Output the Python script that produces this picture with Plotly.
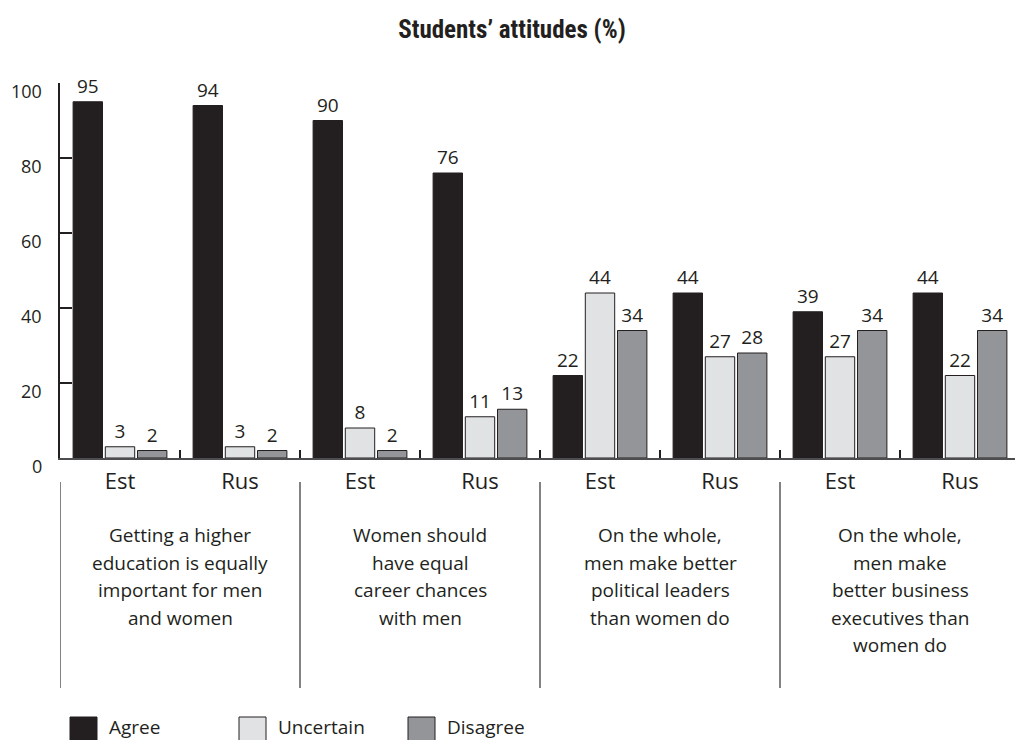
import plotly.graph_objects as go

# ---- data ----
countries = ["Est", "Rus", "Est", "Rus", "Est", "Rus", "Est", "Rus"]
agree = [95, 94, 90, 76, 22, 44, 39, 44]
uncertain = [3, 3, 8, 11, 44, 27, 27, 22]
disagree = [2, 2, 2, 13, 34, 28, 34, 34]
statements = [
    ["Getting a higher", "education is equally", "important for men", "and women"],
    ["Women should", "have equal", "career chances", "with men"],
    ["On the whole,", "men make better", "political leaders", "than women do"],
    ["On the whole,", "men make", "better business", "executives than", "women do"],
]
series_names = ["Agree", "Uncertain", "Disagree"]
y_ticks = [0, 20, 40, 60, 80, 100]
title_text = "Students\u2019 attitudes (%)"

# ---- style ----
W, H = 1015, 740
L, T, B_PX = 60, 83, 458           # plot area pixel edges
plot_w = W - L
plot_h = B_PX - T
colors = ["#231f20", "#e1e2e4", "#939598"]
ink = "#231f20"
body_font = "Open Sans, Noto Sans, sans-serif"

def py2paper(py):
    return (B_PX - py) / plot_h

def px2paper(px):
    return (px - L) / plot_w

xs = list(range(len(countries)))
fig = go.Figure()
for name, vals, col in zip(series_names, [agree, uncertain, disagree], colors):
    fig.add_trace(go.Bar(
        x=xs, y=vals, name=name,
        marker=dict(color=col, line=dict(color=ink, width=1)),
        text=[str(v) for v in vals], textposition="outside",
        textfont=dict(family=body_font, size=19, color=ink),
        cliponaxis=False, showlegend=False,
    ))

annotations = []
# y tick labels (drawn slightly below tick marks as in reference)
for v in y_ticks:
    annotations.append(dict(
        x=px2paper(44), xref="paper", y=v, yref="y", yshift=-8,
        text=str(v), showarrow=False, xanchor="right", yanchor="middle",
        font=dict(family=body_font, size=18, color=ink)))

# statement labels under each pair
for gi, lines in enumerate(statements):
    cx = 2 * gi + 0.5
    for li, line in enumerate(lines):
        annotations.append(dict(
            x=cx, xref="x", y=py2paper(535 + 27.5 * li), yref="paper",
            text=line, showarrow=False, xanchor="center", yanchor="middle",
            font=dict(family=body_font, size=19, color=ink)))

# legend (manual)
shapes = []
legend_boxes = [70, 239, 408]
for name, col, bx in zip(series_names, colors, legend_boxes):
    shapes.append(dict(type="rect", xref="paper", yref="paper",
                       x0=px2paper(bx), x1=px2paper(bx + 27),
                       y0=py2paper(717), y1=py2paper(745),
                       fillcolor=col, line=dict(color=ink, width=1)))
    annotations.append(dict(
        x=px2paper(bx + 37), xref="paper", y=py2paper(727), yref="paper",
        text=name, showarrow=False, xanchor="left", yanchor="middle",
        font=dict(family=body_font, size=19, color=ink)))

# separator lines between statement groups
for sx in [-0.5, 1.5, 3.5, 5.5]:
    shapes.append(dict(type="line", xref="x", yref="paper",
                       x0=sx, x1=sx, y0=py2paper(482), y1=py2paper(688),
                       line=dict(color="#58595b", width=1.5)))

fig.update_layout(
    width=W, height=H,
    margin=dict(l=L, r=0, t=T, b=H - B_PX, pad=0),
    paper_bgcolor="white", plot_bgcolor="white",
    barmode="group", bargap=0.195, bargroupgap=0.087,
    title=dict(text="<b>" + title_text + "</b>", x=512 / W, xref="container",
               xanchor="center", y=1 - 29 / H, yref="container", yanchor="middle",
               font=dict(family="Liberation Sans Narrow, Roboto Condensed, Roboto, sans-serif",
                         size=25, color=ink)),
    xaxis=dict(range=[-0.5, -0.5 + plot_w / 120], tickmode="array", tickvals=xs,
               ticktext=countries, ticks="", showline=True, linecolor="#4d4d4f",
               linewidth=2, showgrid=False, zeroline=False, ticklabelstandoff=3,
               tickfont=dict(family=body_font, size=22, color=ink),
               minor=dict(tickmode="array", tickvals=[i + 0.5 for i in range(8)],
                          ticks="inside", ticklen=8, tickwidth=2, tickcolor=ink,
                          showgrid=False)),
    yaxis=dict(range=[0, 100], tickmode="array", tickvals=y_ticks, ticks="inside",
               ticklen=12, tickwidth=2, tickcolor=ink, showticklabels=False,
               showline=True, linecolor=ink, linewidth=2, showgrid=False,
               zeroline=False),
    annotations=annotations, shapes=shapes,
)

fig.write_html("out.html")
